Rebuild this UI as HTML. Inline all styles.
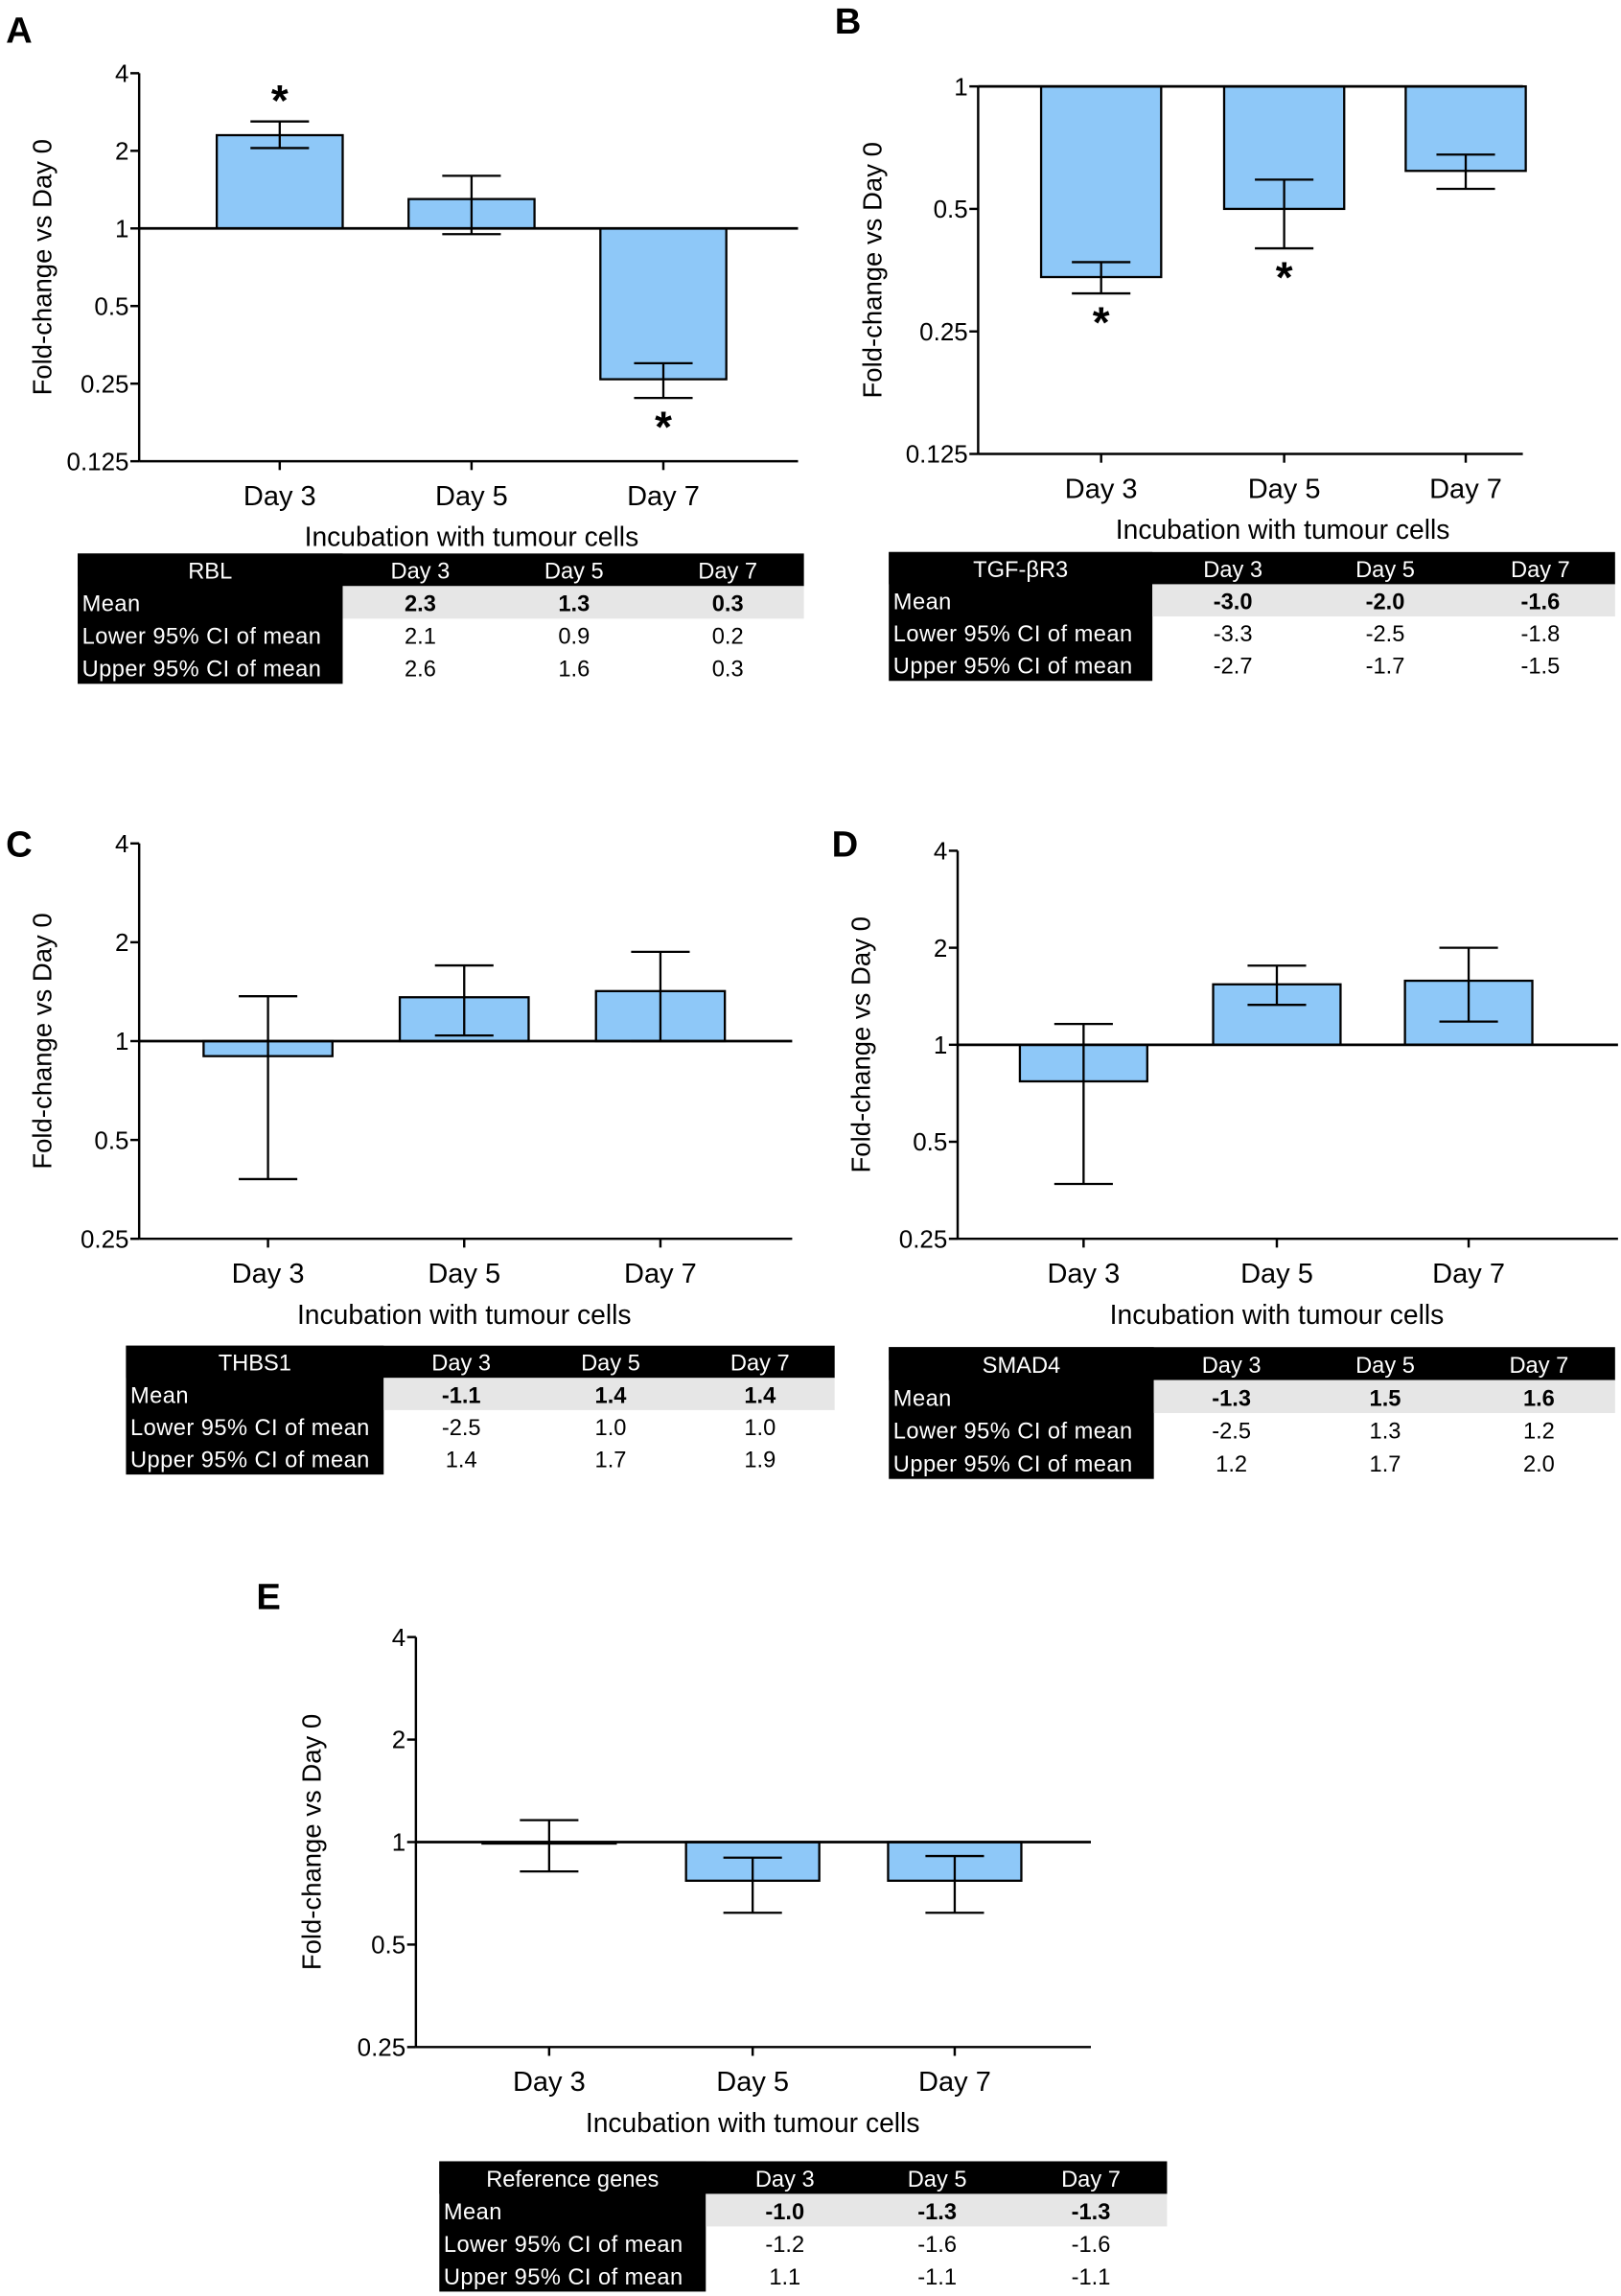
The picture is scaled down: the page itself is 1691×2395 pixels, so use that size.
<!DOCTYPE html>
<html><head><meta charset="utf-8"><style>
html,body{margin:0;padding:0;background:#fff}
svg{display:block}
text{font-family:"Liberation Sans",Arial,sans-serif}
</style></head><body>
<svg id="fig" width="1691" height="2395" viewBox="0 0 1107 1568" xmlns="http://www.w3.org/2000/svg"></svg>
<script>
// ---- data ----
const days = ["Day 3","Day 5","Day 7"];
const meanA = [2.3, 1.3, 0.26], loA = [2.05, 0.95, 0.22], hiA = [2.6, 1.6, 0.3];
const meanB = [0.34, 0.5, 0.62], loB = [0.31, 0.40, 0.56], hiB = [0.37, 0.59, 0.68];
const meanC = [0.9, 1.36, 1.42], loC = [0.38, 1.04, 1.0], hiC = [1.37, 1.7, 1.87];
const meanD = [0.77, 1.54, 1.58], loD = [0.37, 1.33, 1.18], hiD = [1.16, 1.76, 2.0];
const meanE = [0.99, 0.77, 0.77], loE = [0.82, 0.62, 0.62], hiE = [1.16, 0.9, 0.91];
const ticksA = [4,2,1,0.5,0.25,0.125], ticksB = [1,0.5,0.25,0.125], ticksC = [4,2,1,0.5,0.25];
const tabA = [["2.3","1.3","0.3"],["2.1","0.9","0.2"],["2.6","1.6","0.3"]];
const tabB = [["-3.0","-2.0","-1.6"],["-3.3","-2.5","-1.8"],["-2.7","-1.7","-1.5"]];
const tabC = [["-1.1","1.4","1.4"],["-2.5","1.0","1.0"],["1.4","1.7","1.9"]];
const tabD = [["-1.3","1.5","1.6"],["-2.5","1.3","1.2"],["1.2","1.7","2.0"]];
const tabE = [["-1.0","-1.3","-1.3"],["-1.2","-1.6","-1.6"],["1.1","-1.1","-1.1"]];
const rowLabels = ["Mean","Lower 95% CI of mean","Upper 95% CI of mean"];
const starsA = [1,0,1], starsB = [1,1,0];

const NS="http://www.w3.org/2000/svg", svg=document.getElementById('fig');
function mk(tag, at, parent){const e=document.createElementNS(NS,tag);for(const k in at)e.setAttribute(k,at[k]);(parent||svg).appendChild(e);return e;}

function panel(p){
  const g=mk('g',{});
  
  
  const ppd=(p.yBot-p.yTop)/Math.log2(p.vTop/p.vBot);
  const y=v=>p.yTop+Math.log2(p.vTop/v)*ppd;
  const y1=y(1);
  const L=mk('text',{x:p.lx,y:p.ly,'font-size':25,'font-weight':'bold'},g);L.textContent=p.id;
  
  
  const ya=mk('line',{x1:p.ax,y1:p.yTop,x2:p.ax,y2:p.yBot,stroke:'#000','stroke-width':1.6},g);
  
  
  p.ticks.forEach(t=>{
    mk('line',{x1:p.ax-6,y1:y(t),x2:p.ax,y2:y(t),stroke:'#000','stroke-width':1.6},g);
    const tt=mk('text',{x:p.ax-7,y:y(t)+6,'font-size':17,'text-anchor':'end'},g);tt.textContent=t;
    
    
  });
  const xa=mk('line',{x1:p.ax,y1:p.yBot,x2:p.axEnd,y2:p.yBot,stroke:'#000','stroke-width':1.6},g);
  
  
  const yt=mk('text',{x:0,y:0,'font-size':18,'text-anchor':'middle',transform:`translate(${p.ytx},${(p.yTop+p.yBot)/2}) rotate(-90)`},g);
  yt.textContent='Fold-change vs Day 0';
  
  
  const xt=mk('text',{x:p.xtc,y:p.yBot+58,'font-size':18.5,'text-anchor':'middle'},g);
  xt.textContent='Incubation with tumour cells';
  
  
  p.mean.forEach((m,i)=>{
    const cx=p.cx[i];
    const b=mk('rect',{x:cx-p.bw/2,y:Math.min(y(m),y1),width:p.bw,height:Math.abs(y(m)-y1),fill:'#8ec8f8',stroke:'#000','stroke-width':1.5},g);
    
    
    const e=mk('path',{d:`M${cx},${y(p.lo[i])}V${y(p.hi[i])}M${cx-20},${y(p.lo[i])}h40M${cx-20},${y(p.hi[i])}h40`,stroke:'#000','stroke-width':1.5,fill:'none'},g);
    
    
    mk('line',{x1:cx,y1:p.yBot,x2:cx,y2:p.yBot+6,stroke:'#000','stroke-width':1.6},g);
    const dl=mk('text',{x:cx,y:p.yBot+30,'font-size':19,'text-anchor':'middle'},g);dl.textContent=days[i];
    
    
    if(p.stars&&p.stars[i]){
      const up=m>1;
      const sy=up?y(p.hi[i])-4:y(p.lo[i])+30;
      const s=mk('text',{x:cx,y:sy,'font-size':30,'font-weight':'bold','text-anchor':'middle'},g);s.textContent='*';
      
      
    }
  });
  const rl=mk('line',{x1:p.ax,y1:y1,x2:p.axEnd,y2:y1,stroke:'#000','stroke-width':1.8},g);
  
  
  const T=p.tab, tg=mk('g',{},g);
  
  
  const rh=(T.y1-T.y0)/4;
  mk('rect',{x:T.x0,y:T.y0,width:T.x1-T.x0,height:rh,fill:'#000'},tg);
  mk('rect',{x:T.x0,y:T.y0,width:T.xs-T.x0,height:rh*4,fill:'#000'},tg);
  mk('rect',{x:T.xs,y:T.y0+rh,width:T.x1-T.xs,height:rh,fill:'#e6e6e6'},tg);
  const h=mk('text',{x:(T.x0+T.xs)/2,y:T.y0+rh-5,'font-size':15.5,'text-anchor':'middle',fill:'#fff'},tg);h.textContent=T.name;
  days.forEach((d,j)=>{const t=mk('text',{x:T.cc[j],y:T.y0+rh-5,'font-size':15.5,'text-anchor':'middle',fill:'#fff'},tg);t.textContent=d;});
  rowLabels.forEach((r,k)=>{
    const t=mk('text',{x:T.x0+3,y:T.y0+rh*(k+2)-5,'font-size':15.5,fill:'#fff','letter-spacing':0.3},tg);t.textContent=r;
    T.vals[k].forEach((v,j)=>{const c=mk('text',{x:T.cc[j],y:T.y0+rh*(k+2)-5,'font-size':15.5,'text-anchor':'middle','font-weight':k==0?'bold':'normal'},tg);c.textContent=v;});
  });
}

panel({id:'A',lx:4,ly:29,ax:95,axEnd:545,yTop:50,yBot:315,vTop:4,vBot:0.125,ticks:ticksA,ytx:35,xtc:322,cx:[191,322,453],bw:86,mean:meanA,lo:loA,hi:hiA,stars:starsA,
  tab:{x0:53,x1:549,xs:234,y0:378,y1:467,cc:[287,392,497],name:'RBL',vals:tabA}});
panel({id:'B',lx:570,ly:23,ax:668,axEnd:1040,yTop:59,yBot:310,vTop:1,vBot:0.125,ticks:ticksB,ytx:602,xtc:876,cx:[752,877,1001],bw:82,mean:meanB,lo:loB,hi:hiB,stars:starsB,
  tab:{x0:607,x1:1103,xs:787,y0:377,y1:465,cc:[842,946,1052],name:'TGF-\u03b2R3',vals:tabB}});
panel({id:'C',lx:4,ly:585,ax:95,axEnd:541,yTop:576,yBot:846,vTop:4,vBot:0.25,ticks:ticksC,ytx:35,xtc:317,cx:[183,317,451],bw:88,mean:meanC,lo:loC,hi:hiC,
  tab:{x0:86,x1:570,xs:262,y0:919,y1:1007,cc:[315,417,519],name:'THBS1',vals:tabC}});
panel({id:'D',lx:568,ly:585,ax:654,axEnd:1105,yTop:581,yBot:846,vTop:4,vBot:0.25,ticks:ticksC,ytx:594,xtc:872,cx:[740,872,1003],bw:87,mean:meanD,lo:loD,hi:hiD,
  tab:{x0:607,x1:1103,xs:788,y0:920,y1:1010,cc:[841,946,1051],name:'SMAD4',vals:tabD}});
panel({id:'E',lx:175,ly:1099,ax:284,axEnd:745,yTop:1118,yBot:1398,vTop:4,vBot:0.25,ticks:ticksC,ytx:219,xtc:514,cx:[375,514,652],bw:91,mean:meanE,lo:loE,hi:hiE,
  tab:{x0:300,x1:797,xs:482,y0:1476,y1:1565,cc:[536,640,745],name:'Reference genes',vals:tabE}});
</script>
</body></html>
